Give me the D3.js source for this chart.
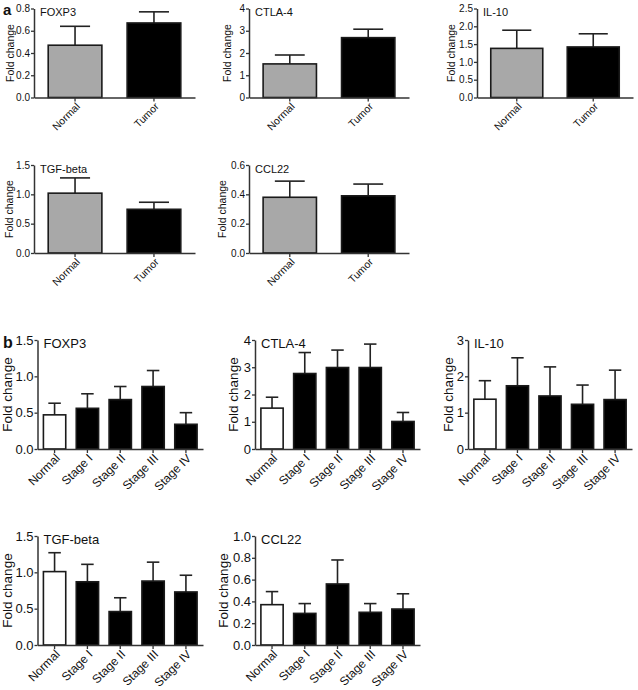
<!DOCTYPE html>
<html>
<head>
<meta charset="utf-8">
<script src="https://cdn.jsdelivr.net/npm/d3@7"></script>
<style>
  body { margin: 0; background: #fff; }
  text { font-family: "Liberation Sans", Arial, Helvetica, sans-serif; fill: #111; }
</style>
</head>
<body>
<script>
// categories
const groupsA = ["Normal", "Tumor"];
const stagesB = ["Normal", "Stage I", "Stage II", "Stage III", "Stage IV"];

// panel a: normal vs tumor (mean, SEM)
const foxp3AMean = [0.47, 0.67], foxp3ASem = [0.17, 0.10];
const ctla4AMean = [1.51, 2.69], ctla4ASem = [0.40, 0.38];
const il10AMean = [1.38, 1.42], il10ASem = [0.51, 0.37];
const tgfAMean = [1.02, 0.745], tgfASem = [0.26, 0.12];
const ccl22AMean = [0.38, 0.39], ccl22ASem = [0.11, 0.08];

// panel b: by stage (mean, SEM)
const foxp3BMean = [0.47, 0.56, 0.68, 0.86, 0.34], foxp3BSem = [0.16, 0.20, 0.18, 0.22, 0.16];
const ctla4BMean = [1.50, 2.77, 2.99, 2.99, 1.01], ctla4BSem = [0.40, 0.77, 0.64, 0.86, 0.33];
const il10BMean = [1.37, 1.74, 1.46, 1.23, 1.36], il10BSem = [0.51, 0.77, 0.80, 0.53, 0.81];
const tgfBMean = [1.01, 0.87, 0.46, 0.88, 0.73], tgfBSem = [0.26, 0.24, 0.19, 0.26, 0.23];
const ccl22BMean = [0.37, 0.29, 0.56, 0.30, 0.33], ccl22BSem = [0.12, 0.09, 0.22, 0.08, 0.14];

// y tick values
const ticksFoxp3A = [0, 0.2, 0.4, 0.6, 0.8];
const ticksCtla4 = [0, 1, 2, 3, 4];
const ticksIl10A = [0, 0.5, 1.0, 1.5, 2.0, 2.5];
const ticksHalf = [0, 0.5, 1.0, 1.5];
const ticksCcl22A = [0, 0.2, 0.4, 0.6];
const ticksIl10B = [0, 1, 2, 3];
const ticksCcl22B = [0, 0.2, 0.4, 0.6, 0.8, 1.0];

const svg = d3.select("body").append("svg")
  .attr("width", 638)
  .attr("height", 690);

function panel(p) {
  let x = d3.scaleBand()
    .domain(p.cats)
    .range([p.x0, p.x1])
    .paddingInner(0.32)
    .paddingOuter(0.18);

  let y = d3.scaleLinear()
    .domain([0, p.ticks[p.ticks.length - 1]])
    .range([p.base, p.top]);

  let g = svg.append("g");

  // error bars (upper only)
  let cap = x.bandwidth() * 0.28;
  p.cats.forEach((c, i) => {
    let cx = x(c) + x.bandwidth() / 2;
    g.append("line")
      .attr("x1", cx).attr("x2", cx)
      .attr("y1", y(p.mean[i])).attr("y2", y(p.mean[i] + p.sem[i]))
      .attr("stroke", "#222").attr("stroke-width", 1.6);
    g.append("line")
      .attr("x1", cx - cap).attr("x2", cx + cap)
      .attr("y1", y(p.mean[i] + p.sem[i])).attr("y2", y(p.mean[i] + p.sem[i]))
      .attr("stroke", "#222").attr("stroke-width", 1.6);
  });

  // bars
  g.selectAll("rect")
    .data(p.cats)
    .enter()
    .append("rect")
    .attr("x", (d) => x(d))
    .attr("y", (d, i) => y(p.mean[i]))
    .attr("width", x.bandwidth())
    .attr("height", (d, i) => p.base - y(p.mean[i]))
    .attr("fill", (d, i) => i === 0 ? p.normalFill : "#000")
    .attr("stroke", "#1a1a1a")
    .attr("stroke-width", 1.6);

  // Y axis
  let ya = g.append("g")
    .attr("transform", "translate(" + p.x0 + ",0)")
    .call(d3.axisLeft(y).tickValues(p.ticks).tickFormat(d3.format(p.fmt))
      .tickSize(3).tickSizeOuter(0).tickPadding(1));
  ya.selectAll("text").style("font-size", (p.big ? 13 : 10) + "px");

  // X axis
  let xa = g.append("g")
    .attr("transform", "translate(0," + p.base + ")")
    .call(d3.axisBottom(x).tickSize(4).tickSizeOuter(0));
  xa.selectAll("text")
    .attr("x", 0).attr("y", 0).attr("dy", "0.35em")
    .attr("transform", "translate(3,7) rotate(-45)")
    .style("text-anchor", "end")
    .style("font-size", (p.big ? 12 : 10.5) + "px");

  [ya, xa].forEach((a) => {
    a.select(".domain").attr("stroke", "#333").attr("stroke-width", 1.5);
    a.selectAll(".tick line").attr("stroke", "#333").attr("stroke-width", 1.3);
  });

  // y label
  g.append("text")
    .attr("transform", "translate(" + (p.x0 - p.ylab) + "," + ((p.top + p.base) / 2) + ") rotate(-90)")
    .attr("text-anchor", "middle")
    .attr("dy", "0.35em")
    .style("font-size", (p.big ? 13.5 : 10.5) + "px")
    .text("Fold change");

  // title
  g.append("text")
    .attr("x", p.x0 + 6)
    .attr("y", p.top + (p.big ? 3 : 4))
    .attr("dy", "0.35em")
    .style("font-size", (p.big ? 13 : 11) + "px")
    .text(p.gene);
}

const grayFill = "#a8a8a8";
const panels = [
  { gene: "FOXP3", cats: groupsA, mean: foxp3AMean, sem: foxp3ASem, ticks: ticksFoxp3A, fmt: ".1f",
    x0: 34, x1: 195, top: 8.5, base: 97.5, ylab: 24, normalFill: grayFill },
  { gene: "CTLA-4", cats: groupsA, mean: ctla4AMean, sem: ctla4ASem, ticks: ticksCtla4, fmt: "d",
    x0: 249, x1: 409, top: 8.5, base: 97.5, ylab: 22, normalFill: grayFill },
  { gene: "IL-10", cats: groupsA, mean: il10AMean, sem: il10ASem, ticks: ticksIl10A, fmt: ".1f",
    x0: 477, x1: 633, top: 8.5, base: 97.5, ylab: 26, normalFill: grayFill },
  { gene: "TGF-beta", cats: groupsA, mean: tgfAMean, sem: tgfASem, ticks: ticksHalf, fmt: ".1f",
    x0: 34, x1: 195, top: 165, base: 253, ylab: 25, normalFill: grayFill },
  { gene: "CCL22", cats: groupsA, mean: ccl22AMean, sem: ccl22ASem, ticks: ticksCcl22A, fmt: ".1f",
    x0: 249, x1: 409, top: 165, base: 253, ylab: 27, normalFill: grayFill },

  { gene: "FOXP3", cats: stagesB, mean: foxp3BMean, sem: foxp3BSem, ticks: ticksHalf, fmt: ".1f",
    x0: 37.5, x1: 203, top: 340, base: 449, ylab: 30.5, normalFill: "#fff", big: true },
  { gene: "CTLA-4", cats: stagesB, mean: ctla4BMean, sem: ctla4BSem, ticks: ticksCtla4, fmt: "d",
    x0: 255, x1: 420, top: 340, base: 449, ylab: 22, normalFill: "#fff", big: true },
  { gene: "IL-10", cats: stagesB, mean: il10BMean, sem: il10BSem, ticks: ticksIl10B, fmt: "d",
    x0: 468, x1: 632, top: 340, base: 449, ylab: 20, normalFill: "#fff", big: true },
  { gene: "TGF-beta", cats: stagesB, mean: tgfBMean, sem: tgfBSem, ticks: ticksHalf, fmt: ".1f",
    x0: 37.5, x1: 203, top: 536, base: 645, ylab: 30.5, normalFill: "#fff", big: true },
  { gene: "CCL22", cats: stagesB, mean: ccl22BMean, sem: ccl22BSem, ticks: ticksCcl22B, fmt: ".1f",
    x0: 255, x1: 420, top: 536, base: 645, ylab: 31.5, normalFill: "#fff", big: true }
];

panels.forEach(panel);

// panel letters
svg.append("text").attr("x", 3).attr("y", 15)
  .style("font-size", "15px").style("font-weight", "bold").text("a");
svg.append("text").attr("x", 3).attr("y", 348)
  .style("font-size", "16px").style("font-weight", "bold").text("b");
</script>
</body>
</html>
